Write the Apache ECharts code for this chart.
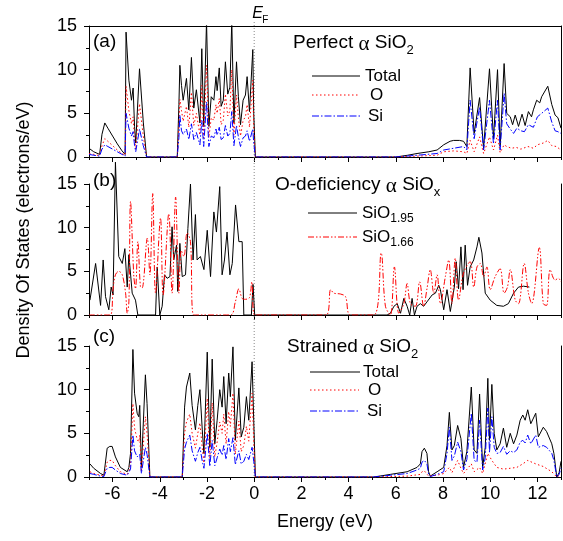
<!DOCTYPE html>
<html><head><meta charset="utf-8">
<script src="https://cdn.jsdelivr.net/npm/echarts@6/dist/echarts.min.js"></script>
<style>html,body{margin:0;padding:0;background:#fff}#c{width:563px;height:541px}</style>
</head><body><div id="c"></div>
<script>
// ---------- tick values ----------
const xMajorTicks = [-6,-4,-2,0,2,4,6,8,10,12];
const xMinorTicks = [-7,-5,-3,-1,1,3,5,7,9,11,13];
const yTicks = [0,5,10,15];

// ---------- panel (a): Perfect alpha SiO2 ----------
const aTotal = [[-7,1.0],[-6.8,0.6],[-6.55,0.3],[-6.45,2.6],[-6.33,3.9],[-6.2,3.3],[-6.0,2.4],[-5.8,1.5],[-5.6,0.7],[-5.47,0.3],[-5.43,14.3],[-5.31,8.8],[-5.24,8.6],[-5.20,6.5],[-5.13,7.9],[-5.07,3.5],[-5.02,1.6],[-4.86,10.1],[-4.7,4.0],[-4.56,0],
[-3.26,0],[-3.19,6],[-3.15,10.5],[-3.08,8.2],[-3.01,6.5],[-2.94,6.4],[-2.87,9.0],[-2.77,5.4],[-2.66,11.4],[-2.56,5.6],[-2.45,7.7],[-2.30,3.9],[-2.22,12.4],[-2.14,3.5],[-2.02,15.5],[-1.92,3.5],[-1.82,6.9],[-1.71,6.5],[-1.62,9.2],[-1.57,7.6],[-1.48,10.2],[-1.40,5.8],[-1.31,6.5],[-1.22,10.9],[-1.12,7.2],[-1.03,8.0],[-0.95,15.5],[-0.86,3.9],[-0.75,10.9],[-0.67,6.9],[-0.58,3.7],[-0.47,6.5],[-0.37,7.1],[-0.30,9.2],[-0.20,5.2],[-0.06,12.3],[-0.02,5.0],[0.05,0],
[6.0,0],[6.5,0.2],[6.9,0.4],[7.4,0.6],[7.75,0.8],[8.03,1.4],[8.3,1.8],[8.45,1.9],[8.7,1.9],[8.87,1.8],[9.01,1.2],[9.15,10.2],[9.32,2.7],[9.55,6.8],[9.72,1.0],[9.97,10.1],[10.14,2.1],[10.31,10.0],[10.42,1.2],[10.59,10.7],[10.70,5.0],[10.85,4.6],[10.95,3.7],[11.06,4.8],[11.2,3.5],[11.35,4.9],[11.48,3.6],[11.62,5.2],[11.75,4.6],[11.83,5.4],[11.97,6.5],[12.1,6.2],[12.18,6.9],[12.44,8.1],[12.61,6.0],[12.75,4.8],[12.87,4.5],[13.0,3.3]];
const aO = [[-7,0.4],[-6.8,0.3],[-6.55,0.15],[-6.45,1.3],[-6.33,2.1],[-6.2,1.8],[-6.0,1.3],[-5.8,0.8],[-5.6,0.4],[-5.47,0.2],[-5.43,8.1],[-5.31,5.3],[-5.24,5.1],[-5.20,3.8],[-5.13,4.6],[-5.07,2.0],[-5.02,0.9],[-4.86,6.1],[-4.7,2.4],[-4.56,0],
[-3.26,0],[-3.19,3.6],[-3.15,6.6],[-3.08,5.3],[-3.01,4.1],[-2.94,4.0],[-2.87,5.8],[-2.77,3.4],[-2.66,7.4],[-2.56,3.6],[-2.45,5.0],[-2.30,2.5],[-2.22,8.2],[-2.14,2.2],[-2.02,10.5],[-1.92,2.2],[-1.82,4.5],[-1.71,4.2],[-1.62,6.0],[-1.57,5.0],[-1.48,6.7],[-1.40,3.7],[-1.31,4.2],[-1.22,7.2],[-1.12,4.7],[-1.03,5.3],[-0.95,10.0],[-0.86,2.5],[-0.75,7.1],[-0.67,4.5],[-0.58,2.4],[-0.47,4.2],[-0.37,4.6],[-0.30,6.0],[-0.20,3.4],[-0.06,8.8],[-0.02,3.3],[0.05,0],
[6.0,0],[6.9,0.1],[7.75,0.2],[8.03,0.6],[8.45,0.7],[8.87,0.6],[9.01,0.4],[9.15,1.9],[9.32,0.6],[9.55,2.3],[9.72,0.4],[9.97,2.3],[10.14,0.8],[10.31,2.5],[10.42,0.5],[10.59,1.4],[10.70,1.2],[10.9,1.0],[11.1,1.1],[11.3,0.9],[11.6,1.2],[11.83,1.0],[12.0,1.4],[12.25,1.6],[12.44,1.9],[12.61,1.3],[12.8,1.2],[13.0,0.8]];
const aSi = [[-7,0.3],[-6.8,0.2],[-6.55,0.1],[-6.45,0.9],[-6.33,1.4],[-6.2,1.2],[-6.0,0.9],[-5.8,0.6],[-5.6,0.3],[-5.47,0.1],[-5.43,5.0],[-5.31,3.3],[-5.24,3.2],[-5.20,2.4],[-5.13,2.9],[-5.07,1.3],[-5.02,0.6],[-4.86,3.2],[-4.7,1.3],[-4.56,0],
[-3.26,0],[-3.19,2.2],[-3.15,4.8],[-3.08,3.0],[-3.01,2.6],[-2.94,2.5],[-2.87,3.2],[-2.77,2.0],[-2.66,3.8],[-2.56,2.0],[-2.45,2.8],[-2.30,1.4],[-2.22,4.2],[-2.14,1.2],[-2.02,6.3],[-1.92,1.2],[-1.82,2.4],[-1.71,2.2],[-1.62,3.2],[-1.57,2.5],[-1.48,3.4],[-1.40,2.0],[-1.31,2.2],[-1.22,3.6],[-1.12,2.4],[-1.03,2.7],[-0.95,5.2],[-0.86,1.3],[-0.75,3.6],[-0.67,2.3],[-0.58,1.2],[-0.47,2.2],[-0.37,2.4],[-0.30,3.0],[-0.20,1.8],[-0.06,3.2],[-0.02,1.6],[0.05,0],
[6.0,0],[6.9,0.2],[7.75,0.4],[8.03,0.8],[8.45,1.0],[8.87,1.2],[9.01,0.8],[9.15,6.5],[9.32,2.1],[9.55,5.7],[9.72,0.8],[9.97,6.5],[10.14,1.5],[10.31,6.5],[10.42,0.8],[10.59,7.3],[10.70,3.8],[10.85,3.2],[10.99,2.7],[11.13,3.3],[11.3,3.0],[11.45,2.9],[11.62,3.7],[11.83,3.4],[12.0,4.6],[12.18,5.0],[12.44,5.6],[12.61,4.0],[12.75,3.0],[12.87,2.9],[13.0,2.7]];

// ---------- panel (b): O-deficiency alpha SiOx ----------
const bSiO195 = [[-6.96,1.7],[-6.72,5.9],[-6.51,1.1],[-6.40,6.3],[-6.30,2.1],[-6.16,0.6],[-6.06,3.2],[-5.98,2.3],[-5.88,17.5],[-5.74,6.7],[-5.59,5.9],[-5.48,7.6],[-5.38,3.2],[-5.31,6.9],[-5.17,2.5],[-5.10,2.5],[-5.03,1.7],[-4.93,0],
[-4.18,0],[-4.11,5.5],[-4.0,0],[-3.90,1.0],[-3.80,4.6],[-3.69,4.2],[-3.57,4.4],[-3.48,10.1],[-3.41,6.3],[-3.29,8.0],[-3.24,2.7],[-3.15,8.2],[-3.05,4.4],[-2.91,4.6],[-2.81,9.9],[-2.70,15.0],[-2.59,6.3],[-2.49,11.5],[-2.42,6.3],[-2.28,6.7],[-2.13,5.2],[-1.99,9.7],[-1.85,4.4],[-1.71,11.8],[-1.60,9.5],[-1.46,14.7],[-1.36,4.6],[-1.26,6.3],[-1.15,9.5],[-1.03,4.6],[-0.93,5.9],[-0.79,12.6],[-0.65,8.4],[-0.51,8.4],[-0.44,0],
[-0.12,0],[-0.05,3.5],[0.02,0],
[5.63,0],[5.77,0.2],[5.92,1.0],[6.06,1.3],[6.20,0.2],[6.34,1.9],[6.48,1.0],[6.59,0],[6.69,1.9],[6.79,0],[6.90,1.0],[7.04,1.3],[7.18,1.0],[7.32,1.5],[7.54,2.3],[7.68,2.5],[7.82,3.4],[7.89,2.9],[8.03,0.6],[8.17,2.9],[8.31,0.4],[8.48,3.2],[8.56,6.1],[8.66,3.0],[8.76,7.8],[8.85,2.9],[8.94,8.0],[9.04,3.4],[9.15,5.5],[9.30,6.3],[9.44,7.8],[9.52,8.9],[9.65,7.1],[9.79,2.5],[10.0,1.7],[10.28,1.1],[10.56,1.0],[10.77,1.3],[10.99,2.5],[11.20,3.2],[11.41,3.3],[11.66,3.2]];
const bSiO166 = [[-7,0],[-6.1,0],[-5.98,3.0],[-5.88,4.6],[-5.74,5.0],[-5.59,4.6],[-5.45,2.5],[-5.38,0.2],[-5.31,1.5],[-5.24,13.0],[-5.1,4.4],[-5.03,3.0],[-4.93,8.4],[-4.82,3.2],[-4.75,3.1],[-4.53,8.8],[-4.42,4.6],[-4.30,13.9],[-4.18,2.5],[-3.97,11.1],[-3.86,2.3],[-3.62,11.6],[-3.48,2.5],[-3.33,13.5],[-3.19,2.5],[-3.09,7.4],[-2.98,6.7],[-2.84,9.4],[-2.70,8.4],[-2.56,0],
[-1.01,0],[-0.8,1.5],[-0.65,3.0],[-0.51,1.9],[-0.37,1.8],[-0.2,2.0],[-0.1,3.8],[0.02,0],
[3.05,0],[3.24,2.9],[3.38,2.5],[3.66,2.4],[3.87,2.1],[4.08,0],
[5.07,0],[5.38,7.1],[5.56,1.0],[5.77,0],[5.94,5.5],[6.13,0.2],[6.34,1.3],[6.48,3.6],[6.62,1.3],[6.83,1.0],[7.01,3.8],[7.18,1.0],[7.32,3.0],[7.46,5.2],[7.61,2.5],[7.75,4.6],[7.89,1.3],[8.10,4.4],[8.24,6.3],[8.38,1.3],[8.52,6.5],[8.66,1.7],[8.87,4.8],[9.15,6.1],[9.30,3.2],[9.44,5.5],[9.58,5.9],[9.72,4.4],[9.86,5.5],[10.0,2.9],[10.21,4.4],[10.42,5.3],[10.59,2.5],[10.73,3.2],[10.85,5.2],[11.06,1.7],[11.20,1.3],[11.44,5.9],[11.62,2.5],[11.76,1.3],[12.08,7.7],[12.25,1.3],[12.39,1.1],[12.54,5.2],[12.75,4.0],[12.89,4.2],[13.0,3.8]];

// ---------- panel (c): Strained alpha SiO2 ----------
const cTotal = [[-6.96,1.5],[-6.80,1.0],[-6.51,0.4],[-6.37,0.2],[-6.23,3.3],[-6.12,3.5],[-6.02,3.5],[-5.88,2.3],[-5.67,1.1],[-5.38,0.6],[-5.31,1.1],[-5.24,2.7],[-5.14,14.6],[-5.07,9.6],[-4.96,7.3],[-4.89,6.9],[-4.85,8.2],[-4.78,1.1],[-4.70,1.1],[-4.61,11.7],[-4.54,8.4],[-4.42,0],
[-3.05,0],[-2.95,8.0],[-2.87,10.3],[-2.73,11.9],[-2.63,8.2],[-2.56,8.0],[-2.49,5.4],[-2.39,8.2],[-2.30,10.0],[-2.20,5.4],[-2.13,2.7],[-1.99,14.3],[-1.88,3.4],[-1.78,13.5],[-1.67,3.8],[-1.57,6.5],[-1.46,10.0],[-1.36,8.0],[-1.29,11.5],[-1.19,6.1],[-1.08,11.9],[-1.01,9.2],[-0.90,14.9],[-0.80,4.2],[-0.65,10.2],[-0.55,4.6],[-0.44,5.7],[-0.33,9.2],[-0.23,6.5],[-0.09,13.2],[-0.02,6.5],[0.05,0],
[5.07,0],[5.77,0.3],[6.48,0.6],[6.90,1.1],[7.04,1.5],[7.11,2.9],[7.21,3.3],[7.32,2.7],[7.39,0.6],[7.46,0.1],[7.75,0.6],[8.03,1.1],[8.17,3.6],[8.27,7.4],[8.38,3.1],[8.48,3.6],[8.62,5.9],[8.76,4.4],[8.87,1.1],[9.01,2.9],[9.20,10.3],[9.32,3.1],[9.44,2.7],[9.55,9.5],[9.68,1.1],[9.79,3.4],[9.90,11.3],[9.97,4.2],[10.07,10.6],[10.17,5.0],[10.28,3.1],[10.42,3.8],[10.56,5.6],[10.70,3.4],[10.85,5.0],[10.99,3.8],[11.13,4.8],[11.27,6.5],[11.38,7.1],[11.48,6.5],[11.59,7.7],[11.72,6.1],[11.93,7.3],[12.04,4.6],[12.25,5.7],[12.39,5.2],[12.61,3.8],[12.70,2.7],[12.82,0],[12.92,0.5],[13.0,1.8]];
const cO = [[-6.96,0.6],[-6.80,0.4],[-6.51,0.2],[-6.37,0.1],[-6.23,1.7],[-6.12,1.9],[-6.02,1.9],[-5.88,1.3],[-5.67,0.6],[-5.38,0.3],[-5.31,0.6],[-5.24,1.5],[-5.14,8.4],[-5.07,5.6],[-4.96,4.3],[-4.89,4.0],[-4.85,4.8],[-4.78,0.6],[-4.70,0.6],[-4.61,6.9],[-4.54,5.0],[-4.42,0],
[-3.05,0],[-2.95,5.0],[-2.87,6.3],[-2.73,7.2],[-2.63,5.0],[-2.56,4.9],[-2.49,3.3],[-2.39,5.0],[-2.30,6.2],[-2.20,3.3],[-2.13,1.6],[-1.99,9.0],[-1.88,2.1],[-1.78,8.5],[-1.67,2.3],[-1.57,4.0],[-1.46,6.3],[-1.36,5.0],[-1.29,7.2],[-1.19,3.8],[-1.08,7.5],[-1.01,5.8],[-0.90,9.6],[-0.80,2.6],[-0.65,6.4],[-0.55,2.9],[-0.44,3.6],[-0.33,5.8],[-0.23,4.1],[-0.09,9.6],[-0.02,4.0],[0.05,0],
[5.07,0],[6.48,0.1],[7.04,0.3],[7.11,0.6],[7.21,0.7],[7.39,0.1],[7.75,0.2],[8.03,0.4],[8.27,1.1],[8.38,0.5],[8.62,1.9],[8.76,1.0],[8.87,0.4],[9.20,1.5],[9.32,0.6],[9.55,1.1],[9.68,0.4],[9.90,2.7],[10.07,1.9],[10.28,1.1],[10.56,0.9],[10.85,1.0],[11.13,1.1],[11.38,1.5],[11.59,1.9],[11.93,1.5],[12.25,1.2],[12.61,0.6],[12.82,0],[13.0,0.3]];
const cSi = [[-6.96,0.4],[-6.80,0.3],[-6.51,0.1],[-6.37,0.05],[-6.23,1.0],[-6.12,1.1],[-6.02,1.1],[-5.88,0.8],[-5.67,0.4],[-5.38,0.2],[-5.31,0.4],[-5.24,0.9],[-5.14,4.8],[-5.07,3.0],[-4.96,2.3],[-4.89,2.2],[-4.85,2.6],[-4.78,0.4],[-4.70,0.4],[-4.61,3.4],[-4.54,2.6],[-4.42,0],
[-3.05,0],[-2.95,3.2],[-2.87,4.0],[-2.73,4.8],[-2.63,3.0],[-2.56,2.9],[-2.49,1.8],[-2.39,2.8],[-2.30,3.4],[-2.20,1.8],[-2.13,1.0],[-1.99,5.0],[-1.88,1.2],[-1.78,4.2],[-1.67,1.3],[-1.57,2.2],[-1.46,3.2],[-1.36,2.5],[-1.29,3.6],[-1.19,2.0],[-1.08,4.4],[-1.01,2.9],[-0.90,4.5],[-0.80,1.4],[-0.65,3.0],[-0.55,1.5],[-0.44,1.8],[-0.33,2.6],[-0.23,2.0],[-0.09,3.4],[-0.02,1.8],[0.05,0],
[5.07,0],[5.77,0.2],[6.48,0.4],[6.90,0.8],[7.04,1.0],[7.11,1.7],[7.21,1.9],[7.32,1.5],[7.39,0.3],[7.46,0.05],[7.75,0.3],[8.03,0.6],[8.17,2.7],[8.27,5.7],[8.38,1.9],[8.48,2.4],[8.62,4.0],[8.76,2.9],[8.87,0.8],[9.01,2.0],[9.20,7.3],[9.32,1.9],[9.44,1.7],[9.55,6.5],[9.68,0.8],[9.79,2.2],[9.90,7.9],[9.97,2.8],[10.07,6.9],[10.17,3.4],[10.28,2.7],[10.42,2.8],[10.56,3.5],[10.70,2.6],[10.85,3.0],[10.99,2.8],[11.13,3.1],[11.27,4.0],[11.38,4.2],[11.48,3.9],[11.59,4.8],[11.72,3.8],[11.93,4.8],[12.04,3.4],[12.25,3.6],[12.39,3.4],[12.61,2.7],[12.70,1.9],[12.82,0],[12.92,0.3],[13.0,1.0]];

// ---------- styling ----------
const FONT = '"Liberation Sans", Arial, sans-serif';
const GREEK = '"Liberation Serif", "DejaVu Serif", serif';
const BLACK = '#000000', RED = '#ff0000', BLUE = '#0000ff';
const DOT = [1.5, 2.5], DASHDOT = [7, 2, 1.5, 2], DASHDOTDOT = [6, 2, 1.5, 2, 1.5, 2];
const panelTops = [26, 184, 346];
const PANEL_H = 131;

const chart = echarts.init(document.getElementById('c'), null, {renderer: 'canvas', width: 563, height: 541});

const grid = panelTops.map(t => ({left: 89, right: 2, top: t, height: PANEL_H}));
const xAxis = [];
[0,1,2].forEach(i => xAxis.push({
  gridIndex: i, type: 'value', min: -7, max: 13, interval: 1, position: 'bottom',
  axisLine: {show: true, onZero: false, lineStyle: {color: BLACK, width: 1}},
  axisTick: {show: true, customValues: xMajorTicks, length: 5, lineStyle: {color: BLACK, width: 1}},
  axisLabel: {show: i === 2, customValues: xMajorTicks, fontSize: 18, fontFamily: FONT, color: BLACK, margin: 8},
  splitLine: {show: false}
}));
[0,1,2].forEach(i => xAxis.push({
  gridIndex: i, type: 'value', min: -7, max: 13, interval: 1, position: 'bottom',
  axisLine: {show: false, onZero: false},
  axisTick: {show: true, customValues: xMinorTicks, length: 3, lineStyle: {color: BLACK, width: 1}},
  axisLabel: {show: false}, splitLine: {show: false}
}));
xAxis.push({gridIndex: 0, type: 'value', min: -7, max: 13, position: 'top',
  axisLine: {show: true, onZero: false, lineStyle: {color: BLACK, width: 1}},
  axisTick: {show: false}, axisLabel: {show: false}, splitLine: {show: false}});

const yAxis = [];
[0,1,2].forEach(i => yAxis.push({
  gridIndex: i, type: 'value', min: 0, max: 15, interval: 5, position: 'left',
  axisLine: {show: true, onZero: false, lineStyle: {color: BLACK, width: 1}},
  axisTick: {show: true, customValues: yTicks, length: 5, lineStyle: {color: BLACK, width: 1}},
  minorTick: {show: true, splitNumber: 2, length: 3, lineStyle: {color: BLACK, width: 1}},
  axisLabel: {fontSize: 18, fontFamily: FONT, color: BLACK, margin: 12},
  splitLine: {show: false}, minorSplitLine: {show: false}
}));
[0,1,2].forEach(i => yAxis.push({
  gridIndex: i, type: 'value', min: 0, max: 15, position: 'right',
  axisLine: {show: true, onZero: false, lineStyle: {color: BLACK, width: 1}},
  axisTick: {show: false}, axisLabel: {show: false}, splitLine: {show: false}
}));

function ser(name, data, gi, color, dash, extra) {
  return Object.assign({
    type: 'line', name, data, xAxisIndex: gi, yAxisIndex: gi,
    symbol: 'none', showSymbol: false,
    lineStyle: {color, width: 1, type: dash || 'solid'}, itemStyle: {color}
  }, extra || {});
}

const series = [
  ser('Total', aTotal, 0, BLACK),
  ser('O', aO, 0, RED, DOT),
  ser('Si', aSi, 0, BLUE, DASHDOT),
  ser('SiO1.95', bSiO195, 1, BLACK, 'solid', {clip: false}),
  ser('SiO1.66', bSiO166, 1, RED, DASHDOTDOT, {smooth: 0.35}),
  ser('Total', cTotal, 2, BLACK),
  ser('O', cO, 2, RED, DOT),
  ser('Si', cSi, 2, BLUE, DASHDOT)
];

chart.setOption({animation: false, backgroundColor: '#ffffff', grid, xAxis, yAxis, series});

// ---------- annotations ----------
const mctx = document.createElement('canvas').getContext('2d');
function tw(text, size, fam) { mctx.font = size + 'px ' + fam; return mctx.measureText(text).width; }
function txt(x, y, text, size, fam, extra) {
  return Object.assign({type: 'text', x, y, silent: true, z: 100, style: {
    text, fontSize: size, fontFamily: fam, fill: BLACK,
    textAlign: 'left', align: 'left', textVerticalAlign: 'middle', verticalAlign: 'middle'
  }}, extra || {});
}
// parts: [text, size, family, dy]
function runText(x, y, parts) {
  const out = []; let cx = x;
  parts.forEach(p => { out.push(txt(cx, y + (p[3] || 0), p[0], p[1], p[2])); cx += tw(p[0], p[1], p[2]); });
  return out;
}
function legLine(x1, x2, y, color, dash) {
  return {type: 'line', silent: true, z: 100, shape: {x1, y1: y, x2, y2: y},
    style: {stroke: color, lineWidth: 1, lineDash: dash || null}};
}

const g = [];
g.push(txt(93, 42, '(a)', 19, FONT), txt(93, 181, '(b)', 19, FONT), txt(93, 337, '(c)', 19, FONT));
// titles
g.push(...runText(293, 43, [['Perfect ', 19, FONT], ['\u03b1', 21, GREEK, 1], [' SiO', 19, FONT], ['2', 13, FONT, 7]]));
g.push(...runText(275, 185, [['O-deficiency ', 19, FONT], ['\u03b1', 21, GREEK, 1], [' SiO', 19, FONT], ['x', 13, FONT, 7]]));
g.push(...runText(287, 347, [['Strained ', 19, FONT], ['\u03b1', 21, GREEK, 1], [' SiO', 19, FONT], ['2', 13, FONT, 7]]));
// legend (a)
g.push(legLine(312, 360, 76, BLACK), txt(365, 76, 'Total', 17, FONT));
g.push(legLine(312, 359, 95, RED, DOT), txt(370, 95, 'O', 17, FONT));
g.push(legLine(312, 360, 116, BLUE, DASHDOT), txt(368, 116, 'Si', 17, FONT));
// legend (b)
g.push(legLine(308, 357, 213, BLACK));
g.push(...runText(362, 213, [['SiO', 17, FONT], ['1.95', 12, FONT, 6]]));
g.push(legLine(308, 357, 237, RED, DASHDOTDOT));
g.push(...runText(362, 237, [['SiO', 17, FONT], ['1.66', 12, FONT, 6]]));
// legend (c)
g.push(legLine(310, 360, 372, BLACK), txt(363, 372, 'Total', 17, FONT));
g.push(legLine(310, 359, 390, RED, DOT), txt(368, 390, 'O', 17, FONT));
g.push(legLine(310, 360, 411, BLUE, DASHDOT), txt(367, 411, 'Si', 17, FONT));
// axis titles
g.push(txt(24, 230, '', 18, FONT, {rotation: Math.PI / 2,
  style: {text: 'Density Of States (electrons/eV)', fontSize: 18, fontFamily: FONT, fill: BLACK,
    textAlign: 'center', align: 'center', textVerticalAlign: 'middle', verticalAlign: 'middle'}}));
g.push(txt(325, 522, '', 18, FONT, {
  style: {text: 'Energy (eV)', fontSize: 18, fontFamily: FONT, fill: BLACK,
    textAlign: 'center', align: 'center', textVerticalAlign: 'middle', verticalAlign: 'middle'}}));

// Fermi level line at E = 0 through all panels
const efX = chart.convertToPixel({xAxisIndex: 0}, 0);
const efTop = chart.convertToPixel({yAxisIndex: 0}, 15) - 4;
const efBot = chart.convertToPixel({yAxisIndex: 2}, 0);
g.push({type: 'line', silent: true, z: 1, shape: {x1: efX, y1: efTop, x2: efX, y2: efBot},
  style: {stroke: '#888888', lineWidth: 1, lineDash: [1, 2]}});
g.push(txt(efX - 2, 14, '', 16, FONT, {style: {text: 'E', fontSize: 16, fontFamily: FONT, fontStyle: 'italic', fill: BLACK,
  textAlign: 'left', align: 'left', textVerticalAlign: 'middle', verticalAlign: 'middle'}}));
g.push(txt(efX + 8, 20, 'F', 10, FONT));

chart.setOption({graphic: {elements: g}});
</script></body></html>
